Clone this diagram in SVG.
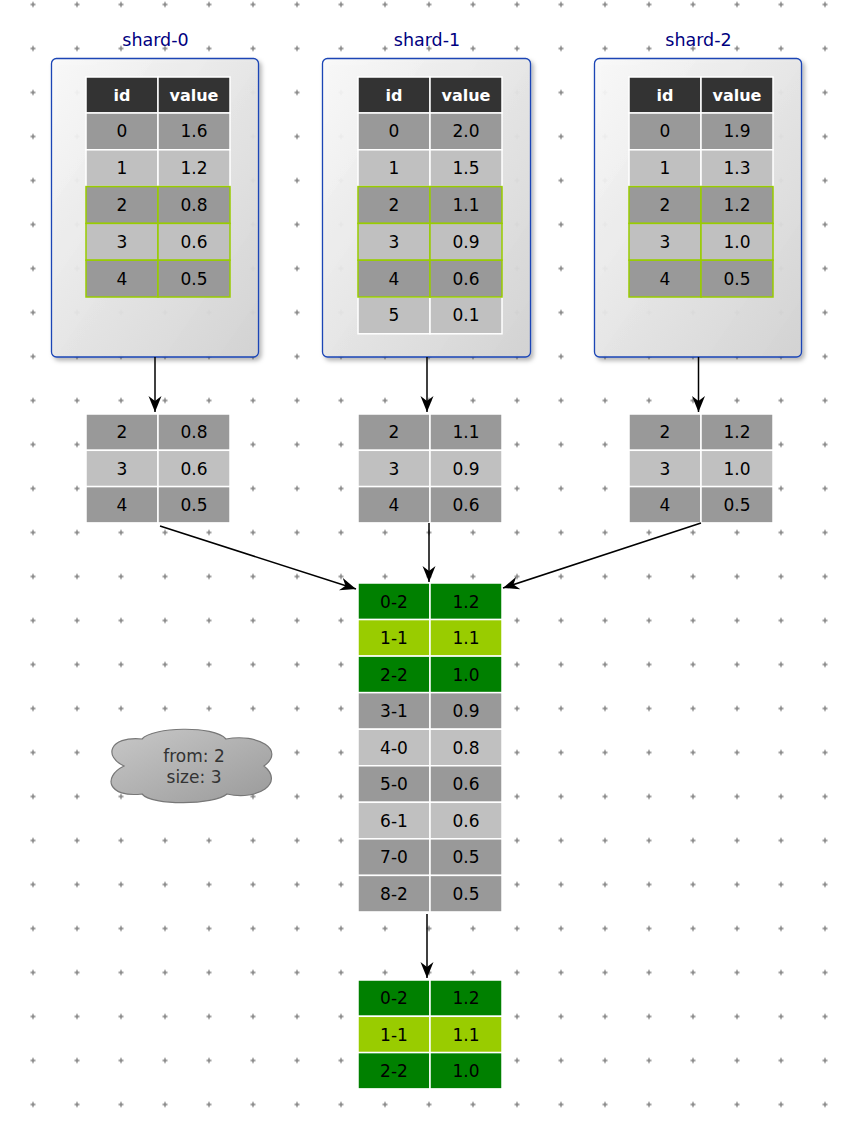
<svg xmlns="http://www.w3.org/2000/svg" width="856" height="1122" viewBox="0 0 856 1122">
<style>
.d{font-family:"DejaVu Sans","Liberation Sans",sans-serif;font-size:17px;text-anchor:middle;fill:#000}
.h{font-family:"DejaVu Sans","Liberation Sans",sans-serif;font-size:16px;font-weight:bold;text-anchor:middle;fill:#fff}
.lbl{font-family:"DejaVu Sans","Liberation Sans",sans-serif;font-size:17.5px;text-anchor:middle;fill:#000080}
.cl{font-family:"DejaVu Sans","Liberation Sans",sans-serif;font-size:17px;text-anchor:middle;fill:#333}
.box{fill:url(#boxg);stroke:#1a45b5;stroke-width:1.3;filter:url(#sh)}
.hd{fill:#333;stroke:#fff;stroke-width:1.5}
.dk{fill:#999;stroke:#fff;stroke-width:1.5}
.lt{fill:#c0c0c0;stroke:#fff;stroke-width:1.5}
.gdk{fill:#999;stroke:#99cc00;stroke-width:1.5}
.glt{fill:#c0c0c0;stroke:#99cc00;stroke-width:1.5}
.g{fill:#008000;stroke:#fff;stroke-width:1.5}
.lg{fill:#99cc00;stroke:#fff;stroke-width:1.5}
.con{fill:none;stroke:#000;stroke-width:1.5;marker-end:url(#arr)}
</style>
<defs>
<pattern id="grid" x="11" y="-17.5" width="44" height="44" patternUnits="userSpaceOnUse">
<path d="M19.5 22H24.5M22 19.5V24.5" stroke="#858585" stroke-width="1.5" fill="none"/>
</pattern>
<linearGradient id="boxg" x1="0" y1="0" x2="1" y2="1">
<stop offset="0" stop-color="#fbfbfb" stop-opacity="0.92"/>
<stop offset="1" stop-color="#d2d2d2" stop-opacity="0.95"/>
</linearGradient>
<linearGradient id="cloudg" x1="0" y1="0" x2="1" y2="1">
<stop offset="0" stop-color="#c8c8c8"/>
<stop offset="1" stop-color="#9a9a9a"/>
</linearGradient>
<filter id="sh" x="-10%" y="-10%" width="130%" height="130%">
<feDropShadow dx="2.5" dy="3" stdDeviation="2" flood-color="#000" flood-opacity="0.3"/>
</filter>
<marker id="arr" viewBox="0 0 16 14" refX="16" refY="7" markerWidth="16" markerHeight="14" markerUnits="userSpaceOnUse" orient="auto">
<path d="M16 7L0 0.5L5 7L0 13.5Z" fill="#000"/>
</marker>
</defs>
<rect width="856" height="1122" fill="#fff"/>
<rect width="856" height="1122" fill="url(#grid)"/>

<g id="shard-0">
<text class="lbl" x="155.5" y="46">shard-0</text>
<rect class="box" x="51.5" y="58.5" width="207" height="298.5" rx="5"/>
<rect class="hd" x="86" y="77" width="72" height="36"/><rect class="hd" x="158" y="77" width="72" height="36"/>
<text class="h" x="122" y="101">id</text><text class="h" x="194" y="101">value</text>
<rect class="dk" x="86" y="113" width="72" height="36.8"/><rect class="dk" x="158" y="113" width="72" height="36.8"/>
<rect class="lt" x="86" y="149.8" width="72" height="36.8"/><rect class="lt" x="158" y="149.8" width="72" height="36.8"/>
<rect class="gdk" x="86" y="186.6" width="72" height="36.8"/><rect class="gdk" x="158" y="186.6" width="72" height="36.8"/>
<rect class="glt" x="86" y="223.4" width="72" height="36.8"/><rect class="glt" x="158" y="223.4" width="72" height="36.8"/>
<rect class="gdk" x="86" y="260.2" width="72" height="36.8"/><rect class="gdk" x="158" y="260.2" width="72" height="36.8"/>
<text class="d" x="122" y="137.4">0</text><text class="d" x="194" y="137.4">1.6</text>
<text class="d" x="122" y="174.2">1</text><text class="d" x="194" y="174.2">1.2</text>
<text class="d" x="122" y="211">2</text><text class="d" x="194" y="211">0.8</text>
<text class="d" x="122" y="247.8">3</text><text class="d" x="194" y="247.8">0.6</text>
<text class="d" x="122" y="284.6">4</text><text class="d" x="194" y="284.6">0.5</text>
</g>

<g id="shard-1">
<text class="lbl" x="427" y="46">shard-1</text>
<rect class="box" x="322.5" y="58.5" width="208" height="298.5" rx="5"/>
<rect class="hd" x="358" y="77" width="72" height="36"/><rect class="hd" x="430" y="77" width="72" height="36"/>
<text class="h" x="394" y="101">id</text><text class="h" x="466" y="101">value</text>
<rect class="dk" x="358" y="113" width="72" height="36.8"/><rect class="dk" x="430" y="113" width="72" height="36.8"/>
<rect class="lt" x="358" y="149.8" width="72" height="36.8"/><rect class="lt" x="430" y="149.8" width="72" height="36.8"/>
<rect class="lt" x="358" y="297" width="72" height="36.8"/><rect class="lt" x="430" y="297" width="72" height="36.8"/>
<rect class="gdk" x="358" y="186.6" width="72" height="36.8"/><rect class="gdk" x="430" y="186.6" width="72" height="36.8"/>
<rect class="glt" x="358" y="223.4" width="72" height="36.8"/><rect class="glt" x="430" y="223.4" width="72" height="36.8"/>
<rect class="gdk" x="358" y="260.2" width="72" height="36.8"/><rect class="gdk" x="430" y="260.2" width="72" height="36.8"/>
<text class="d" x="394" y="137.4">0</text><text class="d" x="466" y="137.4">2.0</text>
<text class="d" x="394" y="174.2">1</text><text class="d" x="466" y="174.2">1.5</text>
<text class="d" x="394" y="211">2</text><text class="d" x="466" y="211">1.1</text>
<text class="d" x="394" y="247.8">3</text><text class="d" x="466" y="247.8">0.9</text>
<text class="d" x="394" y="284.6">4</text><text class="d" x="466" y="284.6">0.6</text>
<text class="d" x="394" y="321.4">5</text><text class="d" x="466" y="321.4">0.1</text>
</g>

<g id="shard-2">
<text class="lbl" x="698.5" y="46">shard-2</text>
<rect class="box" x="594.5" y="58.5" width="207" height="298.5" rx="5"/>
<rect class="hd" x="629" y="77" width="72" height="36"/><rect class="hd" x="701" y="77" width="72" height="36"/>
<text class="h" x="665" y="101">id</text><text class="h" x="737" y="101">value</text>
<rect class="dk" x="629" y="113" width="72" height="36.8"/><rect class="dk" x="701" y="113" width="72" height="36.8"/>
<rect class="lt" x="629" y="149.8" width="72" height="36.8"/><rect class="lt" x="701" y="149.8" width="72" height="36.8"/>
<rect class="gdk" x="629" y="186.6" width="72" height="36.8"/><rect class="gdk" x="701" y="186.6" width="72" height="36.8"/>
<rect class="glt" x="629" y="223.4" width="72" height="36.8"/><rect class="glt" x="701" y="223.4" width="72" height="36.8"/>
<rect class="gdk" x="629" y="260.2" width="72" height="36.8"/><rect class="gdk" x="701" y="260.2" width="72" height="36.8"/>
<text class="d" x="665" y="137.4">0</text><text class="d" x="737" y="137.4">1.9</text>
<text class="d" x="665" y="174.2">1</text><text class="d" x="737" y="174.2">1.3</text>
<text class="d" x="665" y="211">2</text><text class="d" x="737" y="211">1.2</text>
<text class="d" x="665" y="247.8">3</text><text class="d" x="737" y="247.8">1.0</text>
<text class="d" x="665" y="284.6">4</text><text class="d" x="737" y="284.6">0.5</text>
</g>

<g id="result-0">
<rect class="dk" x="86" y="414" width="72" height="36.3"/><rect class="dk" x="158" y="414" width="72" height="36.3"/>
<rect class="lt" x="86" y="450.3" width="72" height="36.3"/><rect class="lt" x="158" y="450.3" width="72" height="36.3"/>
<rect class="dk" x="86" y="486.6" width="72" height="36.3"/><rect class="dk" x="158" y="486.6" width="72" height="36.3"/>
<text class="d" x="122" y="438.4">2</text><text class="d" x="194" y="438.4">0.8</text>
<text class="d" x="122" y="474.7">3</text><text class="d" x="194" y="474.7">0.6</text>
<text class="d" x="122" y="511">4</text><text class="d" x="194" y="511">0.5</text>
</g>

<g id="result-1">
<rect class="dk" x="358" y="414" width="72" height="36.3"/><rect class="dk" x="430" y="414" width="72" height="36.3"/>
<rect class="lt" x="358" y="450.3" width="72" height="36.3"/><rect class="lt" x="430" y="450.3" width="72" height="36.3"/>
<rect class="dk" x="358" y="486.6" width="72" height="36.3"/><rect class="dk" x="430" y="486.6" width="72" height="36.3"/>
<text class="d" x="394" y="438.4">2</text><text class="d" x="466" y="438.4">1.1</text>
<text class="d" x="394" y="474.7">3</text><text class="d" x="466" y="474.7">0.9</text>
<text class="d" x="394" y="511">4</text><text class="d" x="466" y="511">0.6</text>
</g>

<g id="result-2">
<rect class="dk" x="629" y="414" width="72" height="36.3"/><rect class="dk" x="701" y="414" width="72" height="36.3"/>
<rect class="lt" x="629" y="450.3" width="72" height="36.3"/><rect class="lt" x="701" y="450.3" width="72" height="36.3"/>
<rect class="dk" x="629" y="486.6" width="72" height="36.3"/><rect class="dk" x="701" y="486.6" width="72" height="36.3"/>
<text class="d" x="665" y="438.4">2</text><text class="d" x="737" y="438.4">1.2</text>
<text class="d" x="665" y="474.7">3</text><text class="d" x="737" y="474.7">1.0</text>
<text class="d" x="665" y="511">4</text><text class="d" x="737" y="511">0.5</text>
</g>

<g id="merged">
<rect class="g" x="358" y="583" width="72" height="36.55"/><rect class="g" x="430" y="583" width="72" height="36.55"/>
<rect class="lg" x="358" y="619.55" width="72" height="36.55"/><rect class="lg" x="430" y="619.55" width="72" height="36.55"/>
<rect class="g" x="358" y="656.1" width="72" height="36.55"/><rect class="g" x="430" y="656.1" width="72" height="36.55"/>
<rect class="dk" x="358" y="692.65" width="72" height="36.55"/><rect class="dk" x="430" y="692.65" width="72" height="36.55"/>
<rect class="lt" x="358" y="729.2" width="72" height="36.55"/><rect class="lt" x="430" y="729.2" width="72" height="36.55"/>
<rect class="dk" x="358" y="765.75" width="72" height="36.55"/><rect class="dk" x="430" y="765.75" width="72" height="36.55"/>
<rect class="lt" x="358" y="802.3" width="72" height="36.55"/><rect class="lt" x="430" y="802.3" width="72" height="36.55"/>
<rect class="dk" x="358" y="838.85" width="72" height="36.55"/><rect class="dk" x="430" y="838.85" width="72" height="36.55"/>
<rect class="dk" x="358" y="875.4" width="72" height="36.55"/><rect class="dk" x="430" y="875.4" width="72" height="36.55"/>
<text class="d" x="394" y="607.5">0-2</text><text class="d" x="466" y="607.5">1.2</text>
<text class="d" x="394" y="644">1-1</text><text class="d" x="466" y="644">1.1</text>
<text class="d" x="394" y="680.6">2-2</text><text class="d" x="466" y="680.6">1.0</text>
<text class="d" x="394" y="717.1">3-1</text><text class="d" x="466" y="717.1">0.9</text>
<text class="d" x="394" y="753.7">4-0</text><text class="d" x="466" y="753.7">0.8</text>
<text class="d" x="394" y="790.2">5-0</text><text class="d" x="466" y="790.2">0.6</text>
<text class="d" x="394" y="826.8">6-1</text><text class="d" x="466" y="826.8">0.6</text>
<text class="d" x="394" y="863.3">7-0</text><text class="d" x="466" y="863.3">0.5</text>
<text class="d" x="394" y="899.9">8-2</text><text class="d" x="466" y="899.9">0.5</text>
</g>

<g id="final">
<rect class="g" x="358" y="980" width="72" height="36.3"/><rect class="g" x="430" y="980" width="72" height="36.3"/>
<rect class="lg" x="358" y="1016.3" width="72" height="36.3"/><rect class="lg" x="430" y="1016.3" width="72" height="36.3"/>
<rect class="g" x="358" y="1052.6" width="72" height="36.3"/><rect class="g" x="430" y="1052.6" width="72" height="36.3"/>
<text class="d" x="394" y="1004.4">0-2</text><text class="d" x="466" y="1004.4">1.2</text>
<text class="d" x="394" y="1040.7">1-1</text><text class="d" x="466" y="1040.7">1.1</text>
<text class="d" x="394" y="1077">2-2</text><text class="d" x="466" y="1077">1.0</text>
</g>

<g id="cloud">
<path d="M124 766C104 757 108 736 142 739C152 727 214 725 226 739C258 733 286 750 264 766C285 783 258 801 227 794C214 805 152 806 142 794C108 798 102 777 124 766Z" fill="url(#cloudg)" stroke="#777" stroke-width="1.2"/>
<text class="cl" x="194" y="761.5">from: 2</text>
<text class="cl" x="194" y="782.5">size: 3</text>
</g>

<g id="connectors">
<path class="con" d="M155 357V412"/>
<path class="con" d="M427 357V412"/>
<path class="con" d="M698.5 357V412"/>
<path class="con" d="M160 526L356 589"/>
<path class="con" d="M429 523V582"/>
<path class="con" d="M701 523L503 588"/>
<path class="con" d="M427 914V978"/>
</g>
</svg>
